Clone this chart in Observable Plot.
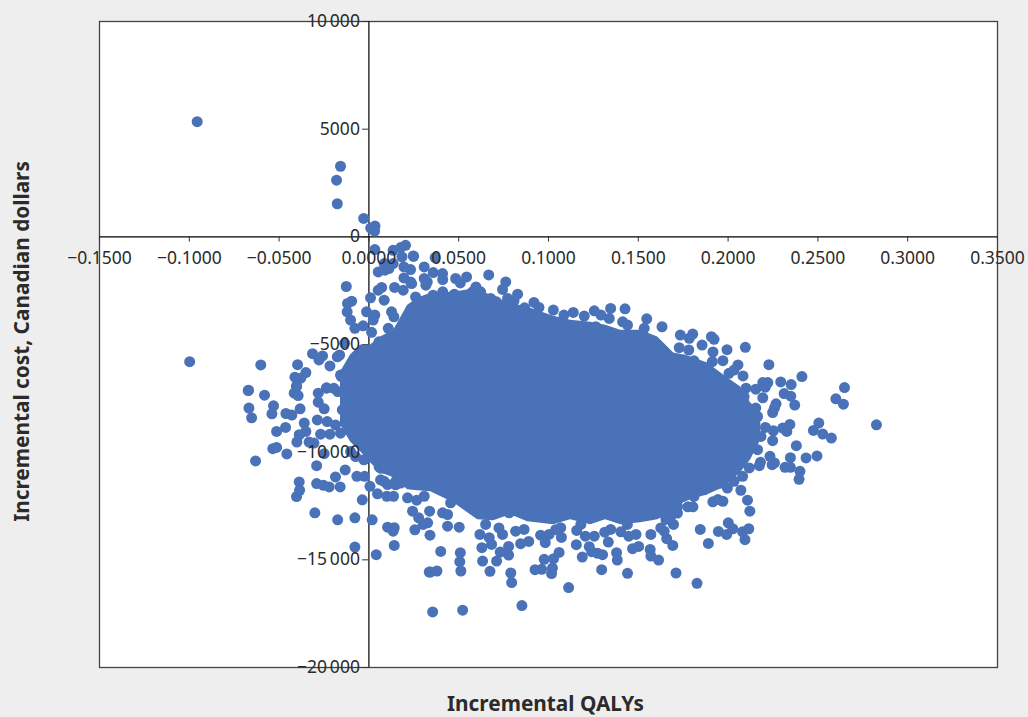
<!DOCTYPE html>
<html><head><meta charset="utf-8">
<style>html,body{margin:0;padding:0;background:#eeeeee;overflow:hidden}svg{display:block}</style>
<script src="https://cdn.jsdelivr.net/npm/d3@7"></script>
<script src="https://cdn.jsdelivr.net/npm/@observablehq/plot@0.6"></script>
</head><body><div id="chart"></div>
<script>
const xTitle = "Incremental QALYs";
const yTitle = "Incremental cost, Canadian dollars";
const xTicks = [-0.15,-0.10,-0.05,0,0.05,0.10,0.15,0.20,0.25,0.30,0.35];
const xTickLabels = ["−0.1500","−0.1000","−0.0500","0.0000","0.0500","0.1000","0.1500","0.2000","0.2500","0.3000","0.3500"];
const yTicks = [10000,5000,0,-5000,-10000,-15000,-20000];
const yTickLabels = ["10\u2009000","5000","0","−5000","−10\u2009000","−15\u2009000","−20\u2009000"];

// Solid centre of the cloud, where single points cannot be told apart: read as an envelope
const coreX = [-0.0158,-0.0102,-0.0046,0.0009,0.0065,0.0138,0.0216,0.0271,0.0344,0.0472,0.0605,0.0695,0.0789,0.0884,0.1029,0.1123,0.1235,0.1318,0.1402,0.1513,0.1608,0.1697,0.1753,0.1792,0.1886,0.1975,0.2070,0.2126,0.2182];
const coreTop = [-6279,-5491,-5028,-5028,-4657,-4333,-3174,-2850,-2618,-2572,-2387,-2804,-3082,-3267,-3684,-3869,-3962,-4101,-4333,-4333,-4657,-5399,-5491,-5584,-5862,-6418,-6974,-7715,-8132];
const coreBottom = [-8735,-9523,-9986,-10496,-10959,-11191,-11747,-11794,-11840,-12350,-13138,-13184,-12906,-13230,-13370,-13138,-13370,-13138,-13370,-13277,-13138,-12813,-12350,-12211,-11979,-11654,-10959,-10357,-9430];

// Individually visible simulations [QALYs, cost]
const upperPoints = [[-0.0956,5348],[-0.0158,3278],[-0.0180,2630],[-0.0176,1537],[-0.0029,857],[0.0010,408],[0.0034,500],[0.0032,269],[0.0033,-593],[0.0135,-625],[0.0204,-394],[0.0177,-500],[0.0184,-935],[0.0249,-903],[0.0085,-1241],[0.0247,-889],[0.0369,-963]];
const leftPoints = [[-0.0998,-5797],[-0.0602,-5950],[-0.0397,-5936],[-0.0314,-5426],[-0.0258,-5533],[-0.0278,-5718],[-0.0217,-5996],[-0.0351,-6306],[-0.0412,-6519],[-0.0379,-6565],[-0.0403,-6922],[-0.0672,-7139],[-0.0126,-2306],[-0.0096,-2986],[-0.0119,-3093],[-0.0121,-3482],[-0.0102,-3866],[-0.0078,-4250],[-0.0032,-4130],[-0.0013,-3482],[0.0033,-3635],[0.0024,-3866],[0.0015,-4435],[0.0009,-2834],[0.0052,-2477],[0.0071,-2352],[0.0143,-2352],[0.0085,-2940],[0.0052,-1630],[0.0089,-1551],[0.0135,-1241],[0.0126,-3482],[0.0108,-4250],[-0.0163,-5487],[-0.0135,-4945],[-0.0153,-6491],[-0.0087,-6260],[-0.0236,-7014],[-0.0670,-7121],[-0.0581,-7353],[-0.0668,-7954],[-0.0653,-8403],[-0.0531,-7848],[-0.0540,-8218],[-0.0462,-8204],[-0.0429,-8279],[-0.0383,-7987],[-0.0416,-7260],[-0.0394,-7371],[-0.0403,-6954],[-0.0282,-7260],[-0.0282,-7677],[-0.0249,-7987],[-0.0236,-7028],[-0.0173,-7186],[-0.0514,-9038],[-0.0464,-8853],[-0.0360,-8649],[-0.0351,-9038],[-0.0388,-9191],[-0.0401,-9529],[-0.0535,-9839],[-0.0514,-9778],[-0.0457,-10084],[-0.0631,-10409],[-0.0333,-9529],[-0.0306,-9575],[-0.0249,-10070],[-0.0291,-10626],[-0.0388,-11380],[-0.0386,-11769],[-0.0403,-12061],[-0.0291,-11459],[-0.0253,-11538],[-0.0221,-11612],[-0.0186,-11149],[-0.0160,-11612],[-0.0132,-10825],[-0.0067,-11121],[-0.0024,-11121],[0.0006,-11584],[-0.0037,-12214],[-0.0301,-12816],[-0.0174,-13140],[-0.0078,-13047],[0.0018,-13140],[-0.0078,-14408],[0.0041,-14760]];
const lowerPoints = [[0.0104,-13482],[0.0141,-13510],[0.0135,-13668],[0.0141,-14330],[0.0256,-13603],[0.0336,-15566],[0.0355,-17418],[0.0048,-11936],[0.0100,-12047],[0.0137,-12047],[0.0215,-12121],[0.0266,-12232],[0.0243,-12742],[0.0277,-13047],[0.0302,-13357],[0.0327,-13279],[0.0340,-13853],[0.0057,-10686],[0.0085,-11353],[0.0104,-11506],[0.0308,-12047],[0.0400,-14608],[0.0509,-14668],[0.0506,-15084],[0.0512,-15519],[0.0342,-15566],[0.0379,-15519],[0.0522,-17339],[0.0852,-17122],[0.1112,-16288],[0.1827,-16089],[0.1710,-15612],[0.1440,-15626],[0.1296,-15455],[0.0795,-16057],[0.0790,-15612],[0.0674,-15534],[0.0633,-15057],[0.0711,-15057],[0.0778,-14779],[0.0731,-14640],[0.0629,-14436],[0.0778,-14376],[0.0683,-14283],[0.0618,-13820],[0.0670,-13973],[0.0744,-13820],[0.0845,-14251],[0.0890,-14145],[0.0976,-14978],[0.1028,-14945],[0.1059,-14654],[0.0925,-15455],[0.0962,-15441],[0.1022,-15381],[0.1017,-15640],[0.0982,-14205],[0.1072,-13960],[0.1155,-14298],[0.1188,-14871],[0.1227,-14390],[0.1240,-14622],[0.1274,-14700],[0.1301,-14760],[0.1333,-14177],[0.1379,-14668],[0.1383,-15010],[0.1468,-14483],[0.1502,-14376],[0.1566,-14515],[0.1570,-14825],[0.1613,-15010],[0.1692,-14330],[0.1658,-14020],[0.1845,-13589],[0.1890,-14237],[0.1946,-13682],[0.1992,-13820],[0.2001,-13279],[0.2026,-13557],[0.2081,-13696],[0.2115,-13557],[0.2094,-14066],[0.2121,-12742],[0.2108,-12232],[0.2071,-11769],[0.1971,-12279],[0.1915,-12306],[0.1943,-12200],[0.1804,-12538],[0.1776,-12538],[0.1696,-13357],[0.1692,-12742],[0.1654,-13126],[0.1644,-13668],[0.1570,-13820],[0.1487,-13820],[0.1447,-13899],[0.1403,-13696],[0.1346,-13589],[0.1313,-13714],[0.1255,-13899],[0.1205,-13899],[0.1157,-13635],[0.1180,-13357],[0.0817,-13668],[0.0864,-13589],[0.0956,-13853],[0.1003,-13820],[0.1068,-13510],[0.0438,-13436],[0.0503,-13482],[0.0438,-12895],[0.0410,-12816],[0.0338,-12742],[0.0455,-12353],[0.0622,-12816],[0.0650,-13357],[0.0781,-12816],[0.1875,-11658]];
const topPoints = [[0.0308,-1398],[0.0232,-1519],[0.0358,-1658],[0.0410,-1704],[0.0667,-1769],[0.0544,-1861],[0.0483,-1935],[0.0509,-2139],[0.0308,-1935],[0.0411,-1982],[0.0232,-2093],[0.0317,-2246],[0.0762,-2093],[0.0744,-2445],[0.0191,-2477],[0.0828,-2662],[0.0411,-2556],[0.0596,-2324],[0.0577,-2556],[0.0476,-2662],[0.0622,-2556],[0.0358,-2709],[0.0772,-2861],[0.0678,-2861],[0.0710,-3019],[0.0808,-2972],[0.0919,-3047],[0.0867,-3297],[0.0947,-3278],[0.1027,-3403],[0.1138,-3510],[0.1255,-3435],[0.1346,-3324],[0.1426,-3343],[0.1199,-3681],[0.1292,-3635],[0.1086,-3635],[0.1338,-3787],[0.1547,-3806],[0.1413,-3945],[0.1440,-4098],[0.1263,-4176],[0.1632,-4176],[0.1533,-4250],[0.1734,-4561],[0.1803,-4514],[0.1784,-4713]];
const rightPoints = [[0.1907,-4640],[0.1922,-4760],[0.1855,-5024],[0.1994,-5242],[0.2096,-5130],[0.1916,-5348],[0.1781,-5255],[0.1728,-5149],[0.1971,-5751],[0.2055,-5950],[0.2227,-5936],[0.2411,-6491],[0.2648,-7001],[0.2600,-7524],[0.2642,-7769],[0.2826,-8728],[0.2505,-8649],[0.2475,-8992],[0.2527,-9158],[0.2575,-9344],[0.2495,-10177],[0.2434,-10270],[0.2380,-9700],[0.2347,-10255],[0.2317,-10705],[0.2347,-10705],[0.2400,-10890],[0.2395,-11260],[0.2258,-10501],[0.2245,-10580],[0.2233,-10195],[0.2174,-10626],[0.2180,-10473],[0.2118,-10733],[0.2081,-11121],[0.2053,-10395],[0.2248,-9468],[0.2252,-9005],[0.2208,-8853],[0.2304,-8880],[0.2327,-9038],[0.2344,-8714],[0.2371,-7815],[0.2248,-8158],[0.2267,-7755],[0.2258,-7954],[0.2193,-7477],[0.2312,-7278],[0.2349,-7399],[0.2293,-6737],[0.2351,-6862],[0.2221,-6769],[0.2193,-6769],[0.2207,-6982],[0.2154,-7075],[0.2100,-7028],[0.2089,-7417],[0.2083,-6459],[0.2154,-7954],[0.2164,-8344],[0.2183,-9270],[0.2164,-9885],[0.2108,-9806],[0.2014,-9964]];
const edgePoints = [[0.0111,-1473],[0.0195,-1398],[0.0195,-1910],[0.0238,-2168],[0.0325,-2095],[0.0139,-3717],[0.0232,-3406],[0.0260,-2790],[0.0056,-4875],[-0.0176,-5570],[-0.0092,-6233],[-0.0158,-6418],[-0.0195,-7034],[-0.0148,-8040],[-0.0287,-8503],[-0.0232,-8581],[-0.0269,-9166],[-0.0217,-9166],[-0.0158,-9120],[-0.0186,-8735],[-0.0102,-9972],[-0.0074,-10204],[-0.0028,-10357],[0.0056,-10510],[0.0065,-11284],[0.0065,-10742],[0.0130,-10742],[0.0149,-11515],[0.0085,-10742],[0.0149,-11353],[0.0177,-11437],[0.0724,-13519],[0.1439,-13357],[0.1680,-13000],[0.1718,-12830],[0.1625,-13520],[0.1040,-13600],[0.1912,-5800],[0.1810,-5757],[0.1754,-5723],[0.2005,-6340],[0.2033,-6186],[0.2033,-11353],[0.1996,-11668],[0.1959,-11437],[0.1866,-11746],[0.1810,-12058],[0.1718,-12520]];

const points = [...upperPoints, ...leftPoints, ...lowerPoints, ...topPoints, ...rightPoints, ...edgePoints];
const core = coreX.map((x, i) => ({x, top: coreTop[i], bottom: coreBottom[i]}));
const blue = "#4a72b8", ink = "#2b2b2b", font = "'Noto Sans', sans-serif";

const chart = Plot.plot({
  width: 1028, height: 717,
  marginLeft: 99, marginRight: 31, marginTop: 21, marginBottom: 50,
  style: {background: "#eeeeee", fontFamily: font, overflow: "visible"},
  x: {domain: [-0.15, 0.35], axis: null},
  y: {domain: [-20000, 10000], axis: null},
  marks: [
    Plot.frame({fill: "white", stroke: "#444444", strokeWidth: 1.3}),
    Plot.ruleY([0], {stroke: "#000", strokeWidth: 1.2}),
    Plot.ruleX([0], {stroke: "#000", strokeWidth: 1.2}),
    Plot.ruleX(xTicks, {x: d => d, y1: 0, y2: -240, stroke: "#333", strokeWidth: 1}),
    Plot.ruleY(yTicks, {y: d => d, x1: -0.0035, x2: 0, stroke: "#333", strokeWidth: 1}),
    Plot.areaY(core, {x: "x", y1: "top", y2: "bottom", fill: blue}),
    Plot.dot(points, {x: d => d[0], y: d => d[1], r: 5.5, fill: blue, stroke: "none"}),
    Plot.text(xTicks, {x: d => d, y: 0, dy: 22, text: (d, i) => xTickLabels[i], fontSize: 17.5, fill: ink}),
    Plot.text(yTicks, {y: d => d, x: 0, dx: -9, textAnchor: "end", text: (d, i) => yTickLabels[i], fontSize: 17.5, fill: ink}),
    Plot.text([xTitle], {frameAnchor: "bottom", textAnchor: "middle", dy: 43.5, dx: -3, text: d => d, fontSize: 20.8, fontWeight: 700, fill: ink}),
    Plot.text([yTitle], {frameAnchor: "left", textAnchor: "middle", dx: -77, dy: -3, rotate: -90, text: d => d, fontSize: 20.8, fontWeight: 700, fill: ink})
  ]
});
document.getElementById("chart").append(chart);
</script></body></html>
